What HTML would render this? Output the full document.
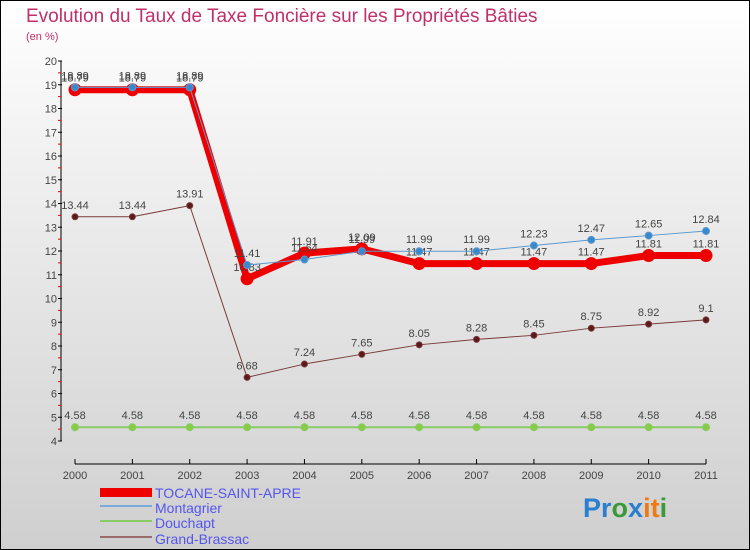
<!DOCTYPE html>
<html><head><meta charset="utf-8"><style>
body{margin:0;width:750px;height:550px;overflow:hidden}
#c{position:absolute;left:0;top:0;width:748px;height:548px;border:1px solid #000;background:linear-gradient(#fff,#f0f0f0 30%,#cfcfcf)}
svg{position:absolute;left:0;top:0;font-family:"Liberation Sans",sans-serif}
</style></head><body>
<div id="c"></div>
<svg id="s" width="750" height="550">
<text x="26" y="22" font-size="19" fill="#c0306a">Evolution du Taux de Taxe Foncière sur les Propriétés Bâties</text>
<text x="26" y="40" font-size="11" fill="#c0306a">(en %)</text>
<g id="ax"></g><g id="ser"></g>
<g>
<rect x="100" y="488" width="52" height="9" fill="#e00"/>
<text x="155" y="498" font-size="14" fill="#5555ee">TOCANE-SAINT-APRE</text>
<line x1="100" y1="506" x2="152" y2="506" stroke="#7aaad6" stroke-width="2"/>
<text x="155" y="513" font-size="14" fill="#5555ee">Montagrier</text>
<line x1="100" y1="521" x2="152" y2="521" stroke="#88cc66" stroke-width="2"/>
<text x="155" y="528" font-size="14" fill="#5555ee">Douchapt</text>
<line x1="100" y1="537" x2="152" y2="537" stroke="#9a6b6b" stroke-width="2"/>
<text x="155" y="544" font-size="14" fill="#5555ee">Grand-Brassac</text>
</g>
<text x="583" y="517" font-size="27" font-weight="bold"><tspan fill="#2a7fd0">Pr</tspan><tspan fill="#3a9a3a">o</tspan><tspan fill="#2a7fd0">x</tspan><tspan fill="#f07a10">it</tspan><tspan fill="#3a9a3a">i</tspan></text>
</svg>
<script>
const years=[2000,2001,2002,2003,2004,2005,2006,2007,2008,2009,2010,2011];
const tocane=[18.79,18.79,18.79,10.83,11.91,12.09,11.47,11.47,11.47,11.47,11.81,11.81];
const montagrier=[18.89,18.89,18.89,11.41,11.64,11.99,11.99,11.99,12.23,12.47,12.65,12.84];
const douchapt=[4.58,4.58,4.58,4.58,4.58,4.58,4.58,4.58,4.58,4.58,4.58,4.58];
const grandBrassac=[13.44,13.44,13.91,6.68,7.24,7.65,8.05,8.28,8.45,8.75,8.92,9.1];
const yTicks=[4,5,6,7,8,9,10,11,12,13,14,15,16,17,18,19,20];
const NS="http://www.w3.org/2000/svg";
const X=i=>75+i*(706-75)/(years.length-1);
const Y=v=>441-(v-4)*(441-61)/16;
function mk(p,t,a){const e=document.createElementNS(NS,t);for(const k in a)e.setAttribute(k,a[k]);p.appendChild(e);return e;}
const ax=document.getElementById('ax'),ser=document.getElementById('ser');
let l=mk(ax,'line',{x1:61,y1:61,x2:61,y2:441,stroke:'#000'});


l=mk(ax,'line',{x1:75,y1:464,x2:706,y2:464,stroke:'#000'});


yTicks.forEach((v,i)=>{
 mk(ax,'line',{x1:58,y1:Y(v),x2:62,y2:Y(v),stroke:'#000'});
 if(i<yTicks.length-1)mk(ax,'line',{x1:58,y1:Y(v+0.5),x2:61,y2:Y(v+0.5),stroke:'#e00'});
 const t=mk(ax,'text',{x:57,y:Y(v)+4,'font-size':11,'text-anchor':'end',fill:'#444'});
 t.textContent=v;
 
 
});
years.forEach((y,i)=>{
 mk(ax,'line',{x1:X(i),y1:459,x2:X(i),y2:464,stroke:'#000'});
 const t=mk(ax,'text',{x:X(i),y:479,'font-size':11,'text-anchor':'middle',fill:'#444'});
 t.textContent=y;
 
 
});
function series(data,name,color,w,r,dot,labOff){
 const g=mk(ser,'g',{});
 
 
 const p=mk(g,'polyline',{points:data.map((v,i)=>X(i)+','+Y(v)).join(' '),fill:'none',stroke:color,'stroke-width':w,'stroke-linejoin':'round'});
 
 
 data.forEach((v,i)=>{
  const c=mk(g,'circle',{cx:X(i),cy:Y(v),r:r,fill:dot,stroke:color,'stroke-width':1});
  
  
  const t=mk(g,'text',{x:X(i),y:Y(v)+labOff,'font-size':11,'text-anchor':'middle',fill:'#444'});
  t.textContent=v;
  
  
 });
}
series(douchapt,'douchapt','#88cc66',2,3.5,'#88cc44',-8);
series(grandBrassac,'grand-brassac','#7a3a3a',1,3,'#5a1a1a',-8);
series(tocane,'tocane','#e00',7,6,'#e00',-8);
series(montagrier,'montagrier','#5a9ad0',1,3.5,'#3a88cc',-8);
</script>
</body></html>
